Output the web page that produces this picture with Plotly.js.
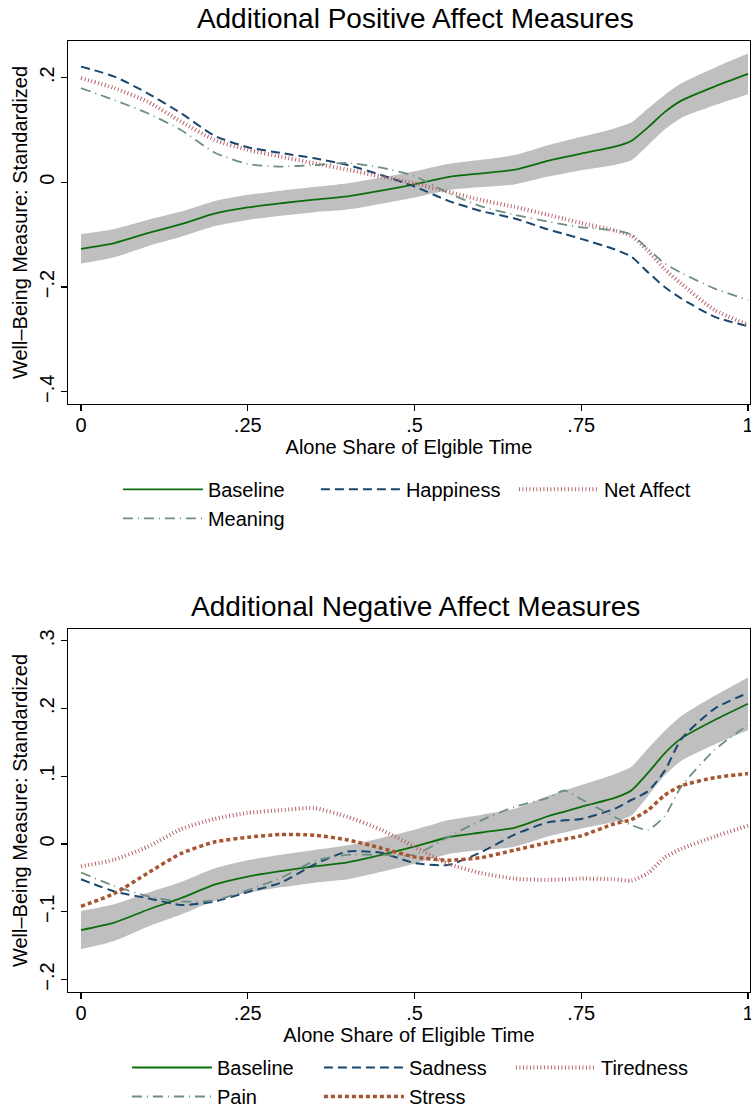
<!DOCTYPE html>
<html>
<head>
<meta charset="utf-8">
<script src="https://cdn.plot.ly/plotly-3.0.1.min.js"></script>
<style>
  body { margin: 0; overflow: hidden; background: #fff; }
  #chart { width: 751px; height: 1116px; }
</style>
</head>
<body>
<div id="chart"></div>
<script>
// alone share of eligible time (x grid)
const alone = [0, 0.05, 0.1, 0.15, 0.2, 0.25, 0.3, 0.35, 0.4, 0.45, 0.5, 0.55, 0.6, 0.65, 0.7, 0.725, 0.75, 0.8, 0.825, 0.85, 0.875, 0.9, 0.95, 1];

// baseline with its confidence band
const baseline = [-0.127, -0.116, -0.097, -0.080, -0.060, -0.048, -0.040, -0.033, -0.027, -0.016, -0.004, 0.010, 0.017, 0.024, 0.041, 0.048, 0.055, 0.068, 0.079, 0.105, 0.134, 0.156, 0.183, 0.207];
const baseHi = [-0.099, -0.089, -0.072, -0.056, -0.036, -0.024, -0.016, -0.009, -0.002, 0.009, 0.021, 0.035, 0.043, 0.052, 0.071, 0.079, 0.087, 0.103, 0.114, 0.141, 0.167, 0.189, 0.219, 0.246];
const baseLo = [-0.155, -0.143, -0.122, -0.104, -0.084, -0.072, -0.064, -0.057, -0.052, -0.041, -0.029, -0.015, -0.009, -0.004, 0.011, 0.017, 0.023, 0.033, 0.042, 0.071, 0.101, 0.123, 0.147, 0.168];

// positive affect measures
const happiness = [0.221, 0.202, 0.170, 0.132, 0.089, 0.067, 0.056, 0.046, 0.033, 0.014, -0.008, -0.035, -0.055, -0.069, -0.090, -0.099, -0.108, -0.128, -0.142, -0.172, -0.200, -0.222, -0.257, -0.275];
const netAffect = [0.199, 0.180, 0.154, 0.116, 0.081, 0.062, 0.049, 0.036, 0.024, 0.011, -0.002, -0.018, -0.034, -0.047, -0.062, -0.070, -0.078, -0.092, -0.102, -0.131, -0.166, -0.194, -0.244, -0.272];
const meaning = [0.180, 0.157, 0.132, 0.100, 0.057, 0.035, 0.030, 0.033, 0.037, 0.028, 0.012, -0.020, -0.046, -0.062, -0.075, -0.081, -0.086, -0.092, -0.100, -0.127, -0.155, -0.173, -0.203, -0.225];

// negative affect measures
const sadness = [-0.052, -0.070, -0.080, -0.090, -0.085, -0.071, -0.057, -0.030, -0.011, -0.013, -0.028, -0.031, -0.012, 0.014, 0.032, 0.035, 0.037, 0.052, 0.065, 0.078, 0.108, 0.155, 0.200, 0.223];
const pain = [-0.042, -0.062, -0.077, -0.085, -0.083, -0.068, -0.050, -0.025, -0.016, -0.016, -0.016, 0.010, 0.035, 0.055, 0.068, 0.079, 0.066, 0.040, 0.028, 0.021, 0.041, 0.085, 0.139, 0.176];
const tiredness = [-0.033, -0.023, -0.004, 0.022, 0.037, 0.046, 0.050, 0.053, 0.040, 0.021, -0.004, -0.029, -0.043, -0.051, -0.053, -0.052, -0.051, -0.052, -0.054, -0.043, -0.020, -0.007, 0.011, 0.027];
const stress = [-0.092, -0.073, -0.043, -0.014, 0.003, 0.010, 0.014, 0.013, 0.006, -0.006, -0.019, -0.024, -0.020, -0.009, 0.002, 0.007, 0.012, 0.030, 0.036, 0.050, 0.072, 0.086, 0.098, 0.104];

// ticks
const xTicks = [0, 0.25, 0.5, 0.75, 1];
const xTickText = ['0', '.25', '.5', '.75', '1'];
const yTicksTop = [-0.4, -0.2, 0, 0.2];
const yTickTextTop = ['\u2212.4', '\u2212.2', '0', '.2'];
const yTicksBot = [-0.2, -0.1, 0, 0.1, 0.2, 0.3];
const yTickTextBot = ['\u2212.2', '\u2212.1', '0', '.1', '.2', '.3'];

const fontName = '"Liberation Sans", Arial, sans-serif';

const styles = {
  base:  { color: '#0b6e0b', width: 1.8, dash: 'solid' },
  dash:  { color: '#1a476f', width: 2, dash: '9px,5px' },
  fine:  { color: '#b8646b', width: 4, dash: '1px,2.5px' },
  dot:   { color: '#6e8e84', width: 1.8, dash: '10px,5px,1px,5px' },
  short: { color: '#a8552f', width: 3.5, dash: '4px,3px' }
};

function band(xa, ya) {
  const common = { x: alone, xaxis: xa, yaxis: ya, type: 'scatter', mode: 'lines',
    line: { width: 0, shape: 'spline', smoothing: 0.6 }, showlegend: false, hoverinfo: 'skip' };
  return [
    Object.assign({}, common, { y: baseLo }),
    Object.assign({}, common, { y: baseHi, fill: 'tonexty', fillcolor: '#bfbfbf' })
  ];
}

function curve(y, name, style, xa, ya, legend) {
  return {
    x: alone, y: y, name: name, xaxis: xa, yaxis: ya, legend: legend,
    type: 'scatter', mode: 'lines',
    line: Object.assign({ shape: 'spline', smoothing: 0.6 }, style),
    hoverinfo: 'skip'
  };
}

const data = [
  ...band('x', 'y'),
  curve(baseline, 'Baseline', styles.base, 'x', 'y', 'legend'),
  curve(happiness, 'Happiness', styles.dash, 'x', 'y', 'legend'),
  curve(netAffect, 'Net Affect', styles.fine, 'x', 'y', 'legend'),
  curve(meaning, 'Meaning', styles.dot, 'x', 'y', 'legend'),
  ...band('x2', 'y2'),
  curve(baseline, 'Baseline', styles.base, 'x2', 'y2', 'legend2'),
  curve(sadness, 'Sadness', styles.dash, 'x2', 'y2', 'legend2'),
  curve(tiredness, 'Tiredness', styles.fine, 'x2', 'y2', 'legend2'),
  curve(pain, 'Pain', styles.dot, 'x2', 'y2', 'legend2'),
  curve(stress, 'Stress', styles.short, 'x2', 'y2', 'legend2')
];

function xAxis(title, anchor) {
  return {
    domain: [0.0905, 0.9987], anchor: anchor, range: [-0.0195, 1.003],
    tickvals: xTicks, ticktext: xTickText, ticks: 'outside', ticklen: 6, tickwidth: 1.2, tickcolor: '#000',
    ticklabeloverflow: 'allow', ticklabelstandoff: -3,
    showline: true, mirror: true, linecolor: '#000', linewidth: 1.4,
    showgrid: false, zeroline: false, tickfont: { size: 20 },
    title: { text: title, font: { size: 20 }, standoff: 0 }
  };
}

function yAxis(domain, range, vals, text, anchor) {
  return {
    domain: domain, anchor: anchor, range: range,
    tickvals: vals, ticktext: text, tickangle: -90, ticks: 'outside', ticklen: 6, tickwidth: 1.2, tickcolor: '#000',
    ticklabelstandoff: -1,
    showline: true, mirror: true, linecolor: '#000', linewidth: 1.4,
    showgrid: false, zeroline: false, tickfont: { size: 20 },
    title: { text: 'Well\u2013Being Measure: Standardized', font: { size: 20 }, standoff: 2 }
  };
}

const layout = {
  width: 751, height: 1116,
  margin: { l: 0, r: 0, t: 0, b: 0 },
  paper_bgcolor: '#fff', plot_bgcolor: '#fff',
  font: { family: fontName, size: 20, color: '#000' },
  title: { text: 'Additional Positive Affect Measures', x: 0.553, xanchor: 'center', xref: 'paper',
    y: 0.984, yanchor: 'middle', yref: 'paper', font: { size: 28 } },
  xaxis: xAxis('Alone Share of Elgible Time', 'y'),
  yaxis: yAxis([0.638, 0.9633], [-0.4235, 0.27], yTicksTop, yTickTextTop, 'x'),
  xaxis2: xAxis('Alone Share of Eligible Time', 'y2'),
  yaxis2: yAxis([0.1114, 0.4361], [-0.218, 0.317], yTicksBot, yTickTextBot, 'x2'),
  legend: { orientation: 'h', x: 0.157, xanchor: 'left', y: 0.579, yanchor: 'top',
    entrywidth: 103, entrywidthmode: 'pixels', itemwidth: 80, traceorder: 'normal',
    bgcolor: 'rgba(0,0,0,0)', font: { size: 20 } },
  legend2: { orientation: 'h', x: 0.169, xanchor: 'left', y: 0, yanchor: 'bottom',
    entrywidth: 97, entrywidthmode: 'pixels', itemwidth: 80, traceorder: 'normal',
    bgcolor: 'rgba(0,0,0,0)', font: { size: 20 } },
  annotations: [
    { text: 'Additional Negative Affect Measures', xref: 'paper', yref: 'paper', x: 0.553, y: 0.4561,
      xanchor: 'center', yanchor: 'middle', showarrow: false, font: { size: 28 } }
  ],
  showlegend: true
};

Plotly.newPlot('chart', data, layout, { staticPlot: true, displayModeBar: false });
</script>
</body>
</html>
